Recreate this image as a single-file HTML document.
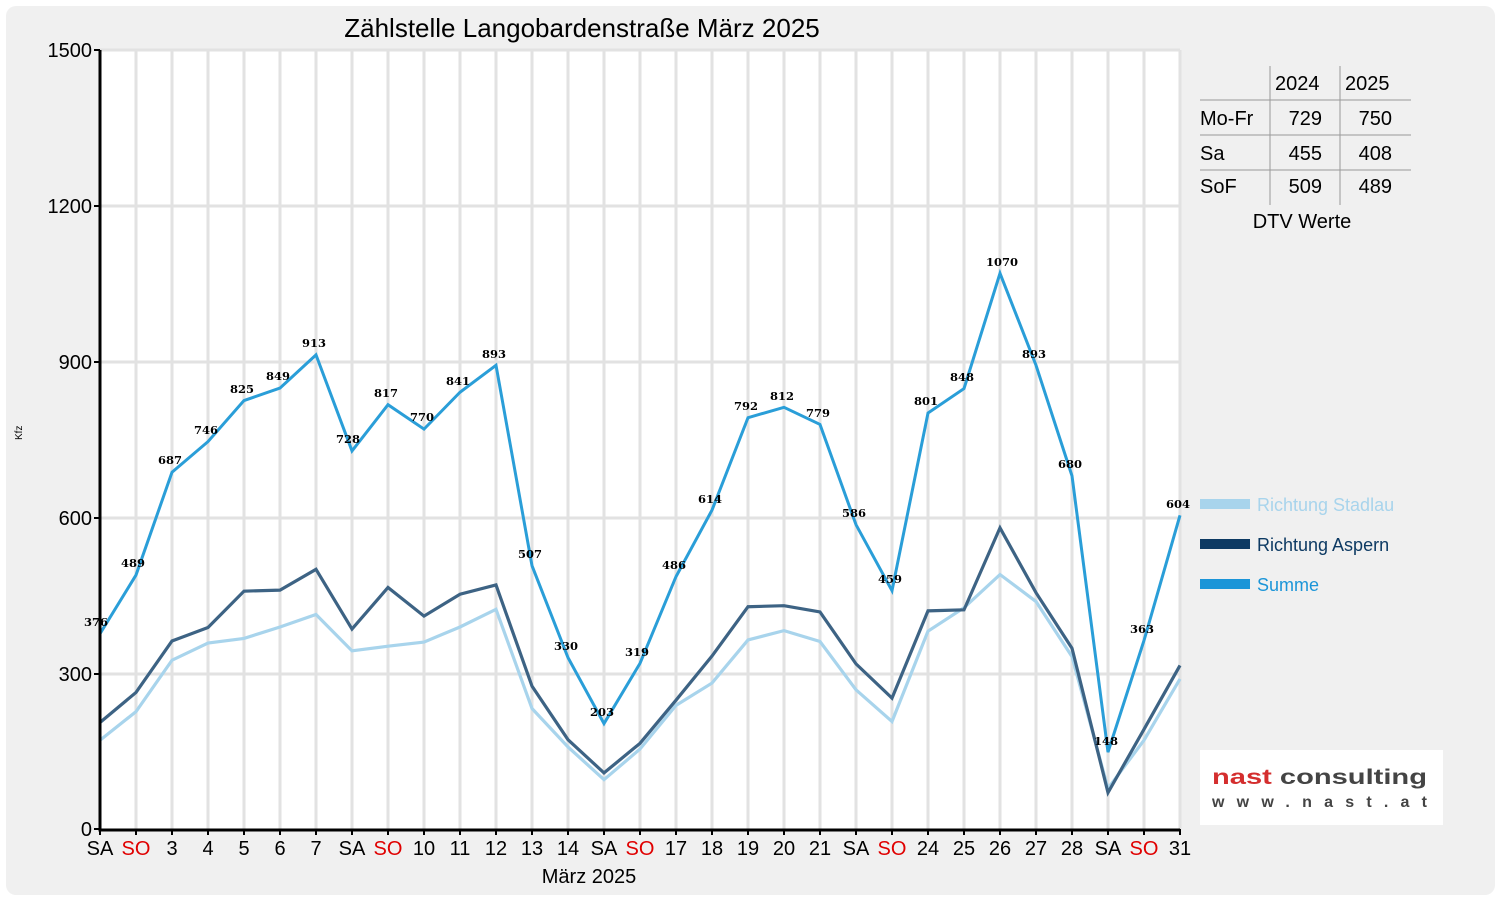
<!DOCTYPE html>
<html><head><meta charset="utf-8"><style>
body{margin:0;background:#fff;}
svg{display:block;font-family:"Liberation Sans","DejaVu Sans",sans-serif;}
.v{font-family:"DejaVu Serif",serif;font-weight:bold;font-size:11.5px;fill:#000;text-anchor:middle}
.t{font-size:20px;fill:#000;text-anchor:middle}
</style></head><body>
<svg width="1500" height="900" viewBox="0 0 1500 900">
<rect x="6" y="6" width="1489" height="889" rx="10" fill="#f0f0f0"/>
<rect x="100" y="50" width="1080" height="779" fill="#fff"/>
<g stroke="#e2e2e2" stroke-width="3">
<path d="M136 50V829M172 50V829M208 50V829M244 50V829M280 50V829M316 50V829M352 50V829M388 50V829M424 50V829M460 50V829M496 50V829M532 50V829M568 50V829M604 50V829M640 50V829M676 50V829M712 50V829M748 50V829M784 50V829M820 50V829M856 50V829M892 50V829M928 50V829M964 50V829M1000 50V829M1036 50V829M1072 50V829M1108 50V829M1144 50V829M1180 50V829"/>
<path d="M100 674H1180M100 518H1180M100 362H1180M100 206H1180M100 50H1180"/>
</g>
<g transform="translate(100,829) scale(36,-0.51933)" fill="none" stroke-linejoin="miter">
<polyline vector-effect="non-scaling-stroke" stroke="#a8d4ec" stroke-width="3.2" points="0,171 1,226 2,325 3,358 4,367 5,389 6,413 7,343 8,352 9,360 10,389 11,423 12,232 13,158 14,95 15,154 16,238 17,281 18,364 19,382 20,361 21,268 22,207 23,381 24,426 25,490 26,438 27,332 28,78 29,171 30,289"/>
<polyline vector-effect="non-scaling-stroke" stroke="#3d6384" stroke-width="3.2" points="0,205 1,263 2,362 3,388 4,458 5,460 6,500 7,385 8,465 9,410 10,452 11,470 12,275 13,172 14,108 15,165 16,248 17,333 18,428 19,430 20,418 21,318 22,252 23,420 24,422 25,580 26,455 27,348 28,70 29,192 30,315"/>
<polyline vector-effect="non-scaling-stroke" stroke="#2a9ed8" stroke-width="3" points="0,376 1,489 2,687 3,746 4,825 5,849 6,913 7,728 8,817 9,770 10,841 11,893 12,507 13,330 14,203 15,319 16,486 17,614 18,792 19,812 20,779 21,586 22,459 23,801 24,848 25,1070 26,893 27,680 28,148 29,363 30,604"/>
</g>
<g stroke="#000" stroke-width="3" fill="none">
<path d="M100 50V830H1180"/>
</g>
<g stroke="#000" stroke-width="2">
<path d="M94 50H100M94 206H100M94 362H100M94 518H100M94 674H100M94 829H100"/>
<path d="M100 829v6M136 829v6M172 829v6M208 829v6M244 829v6M280 829v6M316 829v6M352 829v6M388 829v6M424 829v6M460 829v6M496 829v6M532 829v6M568 829v6M604 829v6M640 829v6M676 829v6M712 829v6M748 829v6M784 829v6M820 829v6M856 829v6M892 829v6M928 829v6M964 829v6M1000 829v6M1036 829v6M1072 829v6M1108 829v6M1144 829v6M1180 829v6"/>
</g>
<g font-size="20" text-anchor="end" fill="#000">
<text x="92" y="57">1500</text><text x="92" y="213">1200</text><text x="92" y="369">900</text><text x="92" y="525">600</text><text x="92" y="681">300</text><text x="92" y="836">0</text>
</g>
<g class="t">
<text x="100" y="855">SA</text><text x="136" y="855" fill="#e00000">SO</text><text x="172" y="855">3</text><text x="208" y="855">4</text><text x="244" y="855">5</text><text x="280" y="855">6</text><text x="316" y="855">7</text><text x="352" y="855">SA</text><text x="388" y="855" fill="#e00000">SO</text><text x="424" y="855">10</text><text x="460" y="855">11</text><text x="496" y="855">12</text><text x="532" y="855">13</text><text x="568" y="855">14</text><text x="604" y="855">SA</text><text x="640" y="855" fill="#e00000">SO</text><text x="676" y="855">17</text><text x="712" y="855">18</text><text x="748" y="855">19</text><text x="784" y="855">20</text><text x="820" y="855">21</text><text x="856" y="855">SA</text><text x="892" y="855" fill="#e00000">SO</text><text x="928" y="855">24</text><text x="964" y="855">25</text><text x="1000" y="855">26</text><text x="1036" y="855">27</text><text x="1072" y="855">28</text><text x="1108" y="855">SA</text><text x="1144" y="855" fill="#e00000">SO</text><text x="1180" y="855">31</text>
<text x="589" y="883">März 2025</text>
<text x="582" y="37" font-size="26">Zählstelle Langobardenstraße März 2025</text>
</g>
<g class="v">
<text x="96" y="626">376</text><text x="133" y="567">489</text><text x="170" y="464">687</text><text x="206" y="434">746</text><text x="242" y="393">825</text><text x="278" y="380">849</text><text x="314" y="347">913</text><text x="348" y="443">728</text><text x="386" y="397">817</text><text x="422" y="421">770</text><text x="458" y="385">841</text><text x="494" y="358">893</text><text x="530" y="558">507</text><text x="566" y="650">330</text><text x="602" y="716">203</text><text x="637" y="656">319</text><text x="674" y="569">486</text><text x="710" y="503">614</text><text x="746" y="410">792</text><text x="782" y="400">812</text><text x="818" y="417">779</text><text x="854" y="517">586</text><text x="890" y="583">459</text><text x="926" y="405">801</text><text x="962" y="381">848</text><text x="1002" y="266">1070</text><text x="1034" y="358">893</text><text x="1070" y="468">680</text><text x="1106" y="745">148</text><text x="1142" y="633">363</text><text x="1178" y="508">604</text>
</g>
<g font-size="20" fill="#000">
<path d="M1270 66V205M1340 66V205M1200 100H1411M1200 135H1411M1200 170H1411" stroke="#999" stroke-width="1"/>
<text x="1275" y="90">2024</text><text x="1345" y="90">2025</text>
<text x="1200" y="125">Mo-Fr</text><text x="1200" y="160">Sa</text><text x="1200" y="193">SoF</text>
<g text-anchor="end"><text x="1322" y="125">729</text><text x="1392" y="125">750</text><text x="1322" y="160">455</text><text x="1392" y="160">408</text><text x="1322" y="193">509</text><text x="1392" y="193">489</text></g>
<text x="1302" y="228" text-anchor="middle">DTV Werte</text>
</g>
<g font-size="18">
<rect x="1200" y="499" width="50" height="10" fill="#a8d4ec"/><text x="1257" y="511" fill="#a8d4ec">Richtung Stadlau</text>
<rect x="1200" y="539" width="50" height="10" fill="#0d3a63"/><text x="1257" y="551" fill="#0d3a63">Richtung Aspern</text>
<rect x="1200" y="579" width="50" height="10" fill="#1b95d8"/><text x="1257" y="591" fill="#1b95d8">Summe</text>
</g>
<rect x="1200" y="750" width="243" height="75" fill="#fff"/>
<text x="1212" y="784" font-size="21" font-weight="bold" fill="#d42e2e" textLength="215" lengthAdjust="spacingAndGlyphs">nast <tspan fill="#444">consulting</tspan></text>
<text x="1212" y="807" font-size="16" font-weight="bold" fill="#444" textLength="215" lengthAdjust="spacing">www.nast.at</text>
<text x="22" y="440" font-size="10" fill="#000" transform="rotate(-90 22 440)">Kfz</text>
</svg>
</body></html>
